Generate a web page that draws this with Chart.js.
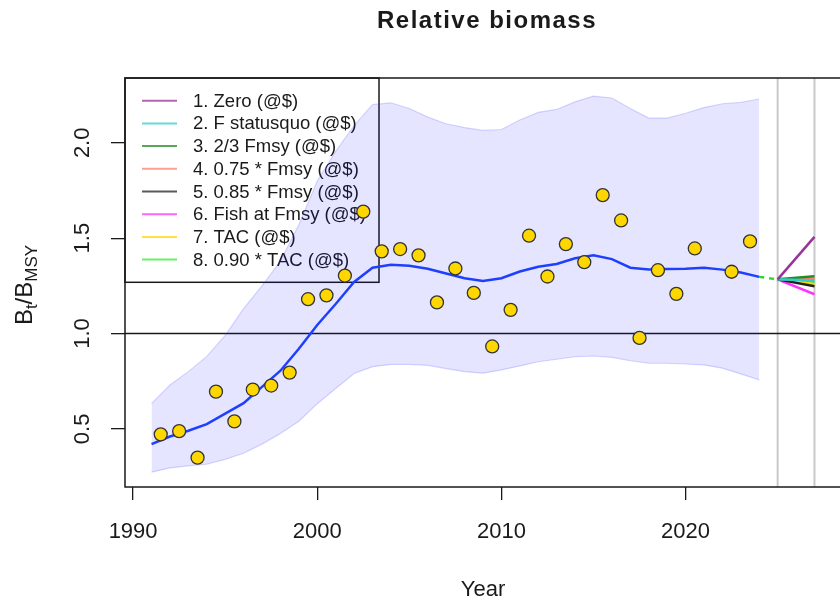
<!DOCTYPE html>
<html>
<head>
<meta charset="utf-8">
<script src="https://cdn.jsdelivr.net/npm/chart.js@4"></script>
<style>
  html, body { margin: 0; padding: 0; background: #fff; overflow: hidden; }
  canvas { display: block; }
</style>
</head>
<body>
<canvas id="bioChart" width="870" height="603"></canvas>
<script>
// annual stock trajectory (median and interval)
const years = [1991, 1992, 1993, 1994, 1995, 1996, 1997, 1998, 1999, 2000,
  2001, 2002, 2003, 2004, 2005, 2006, 2007, 2008, 2009, 2010,
  2011, 2012, 2013, 2014, 2015, 2016, 2017, 2018, 2019, 2020,
  2021, 2022, 2023, 2024];
const median = [0.42, 0.46, 0.49, 0.525, 0.58, 0.635, 0.72, 0.805, 0.92, 1.045,
  1.155, 1.27, 1.345, 1.36, 1.355, 1.34, 1.315, 1.29, 1.275, 1.29,
  1.325, 1.35, 1.365, 1.395, 1.41, 1.39, 1.345, 1.336, 1.338, 1.34,
  1.345, 1.335, 1.32, 1.297];
const upper = [0.632, 0.73, 0.8, 0.88, 0.99, 1.13, 1.25, 1.38, 1.57, 1.8,
  1.955, 2.09, 2.2, 2.21, 2.18, 2.135, 2.1, 2.08, 2.065, 2.07,
  2.12, 2.16, 2.175, 2.215, 2.245, 2.235, 2.18, 2.13, 2.13, 2.155,
  2.185, 2.205, 2.212, 2.23];
const lower = [0.273, 0.295, 0.306, 0.315, 0.34, 0.372, 0.42, 0.475, 0.54, 0.632,
  0.712, 0.79, 0.826, 0.838, 0.838, 0.833, 0.816, 0.8, 0.792, 0.809,
  0.83, 0.852, 0.865, 0.878, 0.882, 0.875, 0.857, 0.844, 0.844, 0.84,
  0.835, 0.818, 0.788, 0.757];

// survey index, plotted mid-year
const obsYears = [1991.5, 1992.5, 1993.5, 1994.5, 1995.5, 1996.5, 1997.5, 1998.5, 1999.5, 2000.5,
  2001.5, 2002.5, 2003.5, 2004.5, 2005.5, 2006.5, 2007.5, 2008.5, 2009.5, 2010.5,
  2011.5, 2012.5, 2013.5, 2014.5, 2015.5, 2016.5, 2017.5, 2018.5, 2019.5, 2020.5,
  2021.5, 2022.5, 2023.5];
const obsIndex = [0.471, 0.488, 0.349, 0.695, 0.539, 0.706, 0.727, 0.795, 1.18, 1.2,
  1.304, 1.639, 1.431, 1.443, 1.41, 1.163, 1.341, 1.213, 0.932, 1.124,
  1.513, 1.299, 1.469, 1.374, 1.726, 1.593, 0.977, 1.332, 1.208, 1.446,
  null, 1.324, 1.483];

// management scenarios
const projYears = [2025, 2027];
const projStart = 1.284;
const scenarios = ['1. Zero (@$)', '2. F statusquo (@$)', '3. 2/3 Fmsy (@$)', '4. 0.75 * Fmsy (@$)',
  '5. 0.85 * Fmsy (@$)', '6. Fish at Fmsy (@$)', '7. TAC (@$)', '8. 0.90 * TAC (@$)'];
const projEnd = [1.507, 1.278, 1.3, 1.287, 1.248, 1.206, 1.258, 1.272];
const scenColors = ['#993399', '#33cccc', '#228b22', '#fa8072', '#222222', '#ff33ff', '#ffd700', '#33ee33'];

const xTicks = [1990, 2000, 2010, 2020];
const yTicks = [0.5, 1.0, 1.5, 2.0];
const refLevel = 1.0;
const markYears = [2025, 2027];

const FONT = "'Liberation Sans', Arial, Helvetica, sans-serif";
const INK = '#1a1a1a';
Chart.defaults.font.family = FONT;

const pts = (xs, ys) => xs.map((x, i) => ({ x: x, y: ys[i] }));

const datasets = [];
datasets.push({
  label: 'index', data: pts(obsYears, obsIndex), showLine: false, order: 0,
  pointRadius: 6.5, pointBackgroundColor: '#ffd700', pointBorderColor: '#333', pointBorderWidth: 1.3
});
datasets.push({
  label: 'median', data: pts(years, median), order: 2,
  borderColor: '#1f3fff', borderWidth: 2.5, pointRadius: 0, fill: false
});
datasets.push({
  label: 'bridge',
  data: [{ x: years[years.length - 1], y: median[median.length - 1] }, { x: projYears[0], y: projStart }],
  order: 2, borderColor: '#22dd22', borderWidth: 2.5, borderDash: [5, 5], pointRadius: 0, fill: false
});
scenarios.forEach((name, i) => {
  datasets.push({
    label: name, scen: true,
    data: [{ x: projYears[0], y: projStart }, { x: projYears[1], y: projEnd[i] }],
    order: 3, borderColor: scenColors[i], borderWidth: 2.5, pointRadius: 0, fill: false
  });
});
datasets.push({
  label: 'upper', data: pts(years, upper), order: 5, fill: '+1',
  backgroundColor: 'rgba(0,0,255,0.1)', borderColor: 'rgba(60,60,255,0.2)', borderWidth: 1.2, pointRadius: 0
});
datasets.push({
  label: 'lower', data: pts(years, lower), order: 6, fill: false,
  borderColor: 'rgba(60,60,255,0.2)', borderWidth: 1.2, pointRadius: 0
});

function seg(ctx, x1, y1, x2, y2) {
  ctx.beginPath(); ctx.moveTo(x1, y1); ctx.lineTo(x2, y2); ctx.stroke();
}

const frame = {
  id: 'frame',
  beforeDatasetsDraw(chart) {
    const { ctx, chartArea: a, scales: { x, y } } = chart;
    ctx.save();
    ctx.strokeStyle = '#c9c9c9';
    ctx.lineWidth = 2;
    markYears.forEach(yr => {
      const px = x.getPixelForValue(yr);
      seg(ctx, px, a.top, px, a.bottom);
    });
    ctx.strokeStyle = INK;
    ctx.lineWidth = 1.5;
    const py = y.getPixelForValue(refLevel);
    seg(ctx, a.left, py, a.right, py);

    // legend box in the top-left corner
    const rowH = 22.7;
    const boxW = 254;
    ctx.strokeRect(a.left, a.top, boxW, rowH * 9);
    ctx.font = '18.5px ' + FONT;
    ctx.textBaseline = 'middle';
    ctx.textAlign = 'left';
    const scen = chart.data.datasets.filter(d => d.scen);
    scen.forEach((d, i) => {
      const ry = a.top + rowH * (i + 1);
      ctx.globalAlpha = 0.75;
      ctx.strokeStyle = d.borderColor;
      ctx.lineWidth = 2;
      seg(ctx, a.left + 17, ry, a.left + 52, ry);
      ctx.globalAlpha = 1;
      ctx.fillStyle = INK;
      ctx.fillText(d.label, a.left + 68, ry + 1);
    });
    ctx.restore();
  },
  afterDraw(chart) {
    const { ctx, chartArea: a, scales: { y } } = chart;
    ctx.save();
    ctx.strokeStyle = INK;
    ctx.lineWidth = 1.5;
    ctx.strokeRect(a.left, a.top, a.right - a.left, a.bottom - a.top);

    // rotated y tick labels
    ctx.fillStyle = INK;
    ctx.font = '22px ' + FONT;
    ctx.textAlign = 'center';
    ctx.textBaseline = 'alphabetic';
    y.ticks.forEach(t => {
      ctx.save();
      ctx.translate(89, y.getPixelForValue(t.value));
      ctx.rotate(-Math.PI / 2);
      ctx.fillText(t.value.toFixed(1), 0, 0);
      ctx.restore();
    });

    // y axis title B_t / B_MSY
    const parts = [['B', 24, 0], ['t', 17, 5], ['/B', 24, 0], ['MSY', 17, 5]];
    let total = 0;
    parts.forEach(p => { ctx.font = p[1] + 'px ' + FONT; total += ctx.measureText(p[0]).width; });
    ctx.save();
    ctx.translate(32, 285);
    ctx.rotate(-Math.PI / 2);
    ctx.textAlign = 'left';
    let cx = -total / 2;
    parts.forEach(p => {
      ctx.font = p[1] + 'px ' + FONT;
      ctx.fillText(p[0], cx, p[2]);
      cx += ctx.measureText(p[0]).width;
    });
    ctx.restore();

    // main title
    ctx.font = 'bold 24px ' + FONT;
    ctx.letterSpacing = '1.5px';
    ctx.textAlign = 'center';
    ctx.fillText('Relative biomass', 487, 28);
    ctx.restore();
  }
};

new Chart(document.getElementById('bioChart'), {
  type: 'line',
  data: { datasets: datasets },
  options: {
    responsive: false,
    animation: false,
    events: [],
    layout: { padding: { top: 78, right: 29, left: 0, bottom: 0 } },
    plugins: { legend: { display: false }, tooltip: { enabled: false }, title: { display: false } },
    scales: {
      x: {
        type: 'linear', min: 1989.56, max: 2028.44,
        afterBuildTicks: s => { s.ticks = xTicks.map(v => ({ value: v })); },
        afterFit: s => { s.height = 116; },
        border: { display: false },
        grid: { drawOnChartArea: false, drawTicks: true, tickLength: 13, color: INK, lineWidth: 1.3 },
        ticks: { color: INK, font: { size: 22 }, padding: 19, maxRotation: 0, callback: v => String(v) },
        title: { display: true, text: 'Year', color: INK, font: { size: 22 }, padding: { top: 0, bottom: 0 } }
      },
      y: {
        type: 'linear', min: 0.195, max: 2.34,
        afterBuildTicks: s => { s.ticks = yTicks.map(v => ({ value: v })); },
        afterFit: s => { s.width = 125; },
        border: { display: false },
        grid: { drawOnChartArea: false, drawTicks: true, tickLength: 14, color: INK, lineWidth: 1.3 },
        ticks: { display: false }
      }
    }
  },
  plugins: [frame]
});
</script>
</body>
</html>
